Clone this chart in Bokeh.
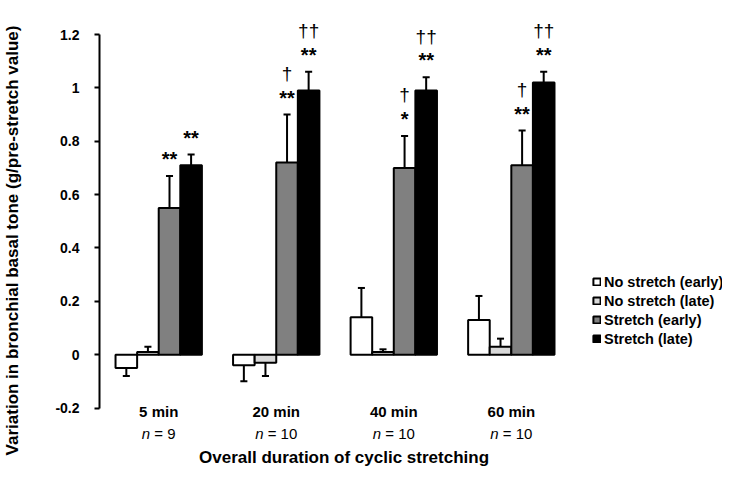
from bokeh.plotting import figure
from bokeh.models import FixedTicker, Legend, LegendItem, Range1d
from bokeh.core.properties import value
from bokeh.embed import file_html
from bokeh.resources import INLINE

# ---------------- data ----------------
categories = ["5 min", "20 min", "40 min", "60 min"]
n_values = [9, 10, 10, 10]
series_names = ["No stretch (early)", "No stretch (late)", "Stretch (early)", "Stretch (late)"]

no_stretch_early = [-0.05, -0.04, 0.14, 0.13]
no_stretch_early_err = [0.03, 0.06, 0.11, 0.09]
no_stretch_late = [0.01, -0.03, 0.01, 0.03]
no_stretch_late_err = [0.02, 0.05, 0.01, 0.03]
stretch_early = [0.55, 0.72, 0.70, 0.71]
stretch_early_err = [0.12, 0.18, 0.12, 0.13]
stretch_late = [0.71, 0.99, 0.99, 1.02]
stretch_late_err = [0.04, 0.07, 0.05, 0.04]

stretch_early_stars = ["**", "**", "*", "**"]
stretch_early_daggers = ["", "\u2020", "\u2020", "\u2020"]
stretch_late_stars = ["**", "**", "**", "**"]
stretch_late_daggers = ["", "\u2020\u2020", "\u2020\u2020", "\u2020\u2020"]

y_ticks = [-0.2, 0.0, 0.2, 0.4, 0.6, 0.8, 1.0, 1.2]
y_tick_labels = ["-0.2", "0", "0.2", "0.4", "0.6", "0.8", "1", "1.2"]
y_title = "Variation in bronchial basal tone (g/pre-stretch value)"
x_title = "Overall duration of cyclic stretching"

# ---------------- style ----------------
FONT = "Liberation Sans"
fills = ["#ffffff", "#d9d9d9", "#808080", "#000000"]
offsets = [-1.5, -0.5, 0.5, 1.5]
bar_w = 0.1837
cap = 0.03

W, H = 722, 470
p = figure(width=W, height=H, output_backend="svg", toolbar_location=None,
           x_range=Range1d(-0.5038, 4.7968), y_range=Range1d(-0.4342, 1.2900),
           min_border_left=96, min_border_right=0, min_border_top=10, min_border_bottom=0,
           x_axis_location=None)
p.grid.visible = False
p.outline_line_color = None
p.background_fill_color = "white"
p.border_fill_color = "white"

ya = p.yaxis[0]
ya.ticker = FixedTicker(ticks=y_ticks)
ya.bounds = (y_ticks[0], y_ticks[-1])
ya.major_label_overrides = {t: l for t, l in zip(y_ticks, y_tick_labels)}
ya.minor_tick_line_color = None
ya.major_tick_out = 5
ya.major_tick_in = 0
ya.major_tick_line_width = 2
ya.axis_line_width = 2
ya.axis_line_color = "black"
ya.major_tick_line_color = "black"
ya.major_label_text_font = FONT
ya.major_label_text_font_size = "14px"
ya.major_label_text_font_style = "bold"
ya.major_label_text_color = "black"
ya.major_label_standoff = 15
ya.axis_label = y_title
ya.axis_label_text_font = FONT
ya.axis_label_text_font_size = "17px"
ya.axis_label_text_font_style = "bold"
ya.axis_label_text_color = "black"
ya.axis_label_standoff = 30

series = [
    (no_stretch_early, no_stretch_early_err),
    (no_stretch_late, no_stretch_late_err),
    (stretch_early, stretch_early_err),
    (stretch_late, stretch_late_err),
]

renderers = []
ends_by_series = []
xs_by_series = []
for k, (vals, errs) in enumerate(series):
    xs = [i + offsets[k] * bar_w for i in range(len(categories))]
    r = p.vbar(x=xs, top=vals, bottom=0, width=bar_w, fill_color=fills[k],
               line_color="black", line_width=2)
    renderers.append(r)
    ends = [v + (e if v >= 0 else -e) for v, e in zip(vals, errs)]
    p.segment(x0=xs, y0=vals, x1=xs, y1=ends, line_color="black", line_width=2)
    p.segment(x0=[x - cap for x in xs], y0=ends, x1=[x + cap for x in xs], y1=ends,
              line_color="black", line_width=2)
    ends_by_series.append(ends)
    xs_by_series.append(xs)

# significance marks
for k, stars, daggers in [(2, stretch_early_stars, stretch_early_daggers),
                          (3, stretch_late_stars, stretch_late_daggers)]:
    p.text(x=xs_by_series[k], y=ends_by_series[k], text=stars, y_offset=-17,
           text_align="center", text_baseline="alphabetic",
           text_font=value(FONT), text_font_size="20px", text_font_style="bold",
           text_color="black")
    p.text(x=xs_by_series[k], y=ends_by_series[k], text=daggers, y_offset=-41,
           text_align="center", text_baseline="alphabetic",
           text_font=value(FONT), text_font_size="19px", text_color="black")

# category labels
centers = list(range(len(categories)))
base_y = [y_ticks[0]] * len(categories)
p.text(x=centers, y=base_y, text=categories, y_offset=3, text_align="center",
       text_baseline="middle", text_font=value(FONT), text_font_size="15px",
       text_font_style="bold", text_color="black")

fs = 15.0
n_w = 0.556 * fs
rest = ["\u00a0=\u00a0%d" % n for n in n_values]
rest_w = [(0.278 + 0.584 + 0.278 + 0.556 * len(str(n))) * fs for n in n_values]
anchor_off = [-(n_w + rw) / 2 + n_w for rw in rest_w]
p.text(x=centers, y=base_y, text=["n"] * len(categories), x_offset=anchor_off, y_offset=25,
       text_align="right", text_baseline="middle", text_font=value(FONT),
       text_font_size="15px", text_font_style="italic", text_color="black")
p.text(x=centers, y=base_y, text=rest, x_offset=anchor_off, y_offset=25,
       text_align="left", text_baseline="middle", text_font=value(FONT),
       text_font_size="15px", text_color="black")

# x title
mid = sum(centers) / len(centers)
p.text(x=[mid], y=[y_ticks[0]], text=[x_title], x_offset=9, y_offset=49,
       text_align="center", text_baseline="middle", text_font=value(FONT),
       text_font_size="17px", text_font_style="bold", text_color="black")

legend = Legend(items=[LegendItem(label=n, renderers=[r]) for n, r in zip(series_names, renderers)],
                location=(493, 122), orientation="vertical",
                glyph_width=9, glyph_height=9, label_height=19, label_width=10,
                spacing=0, padding=0, margin=0, label_standoff=3,
                border_line_color=None, background_fill_alpha=0,
                label_text_font=FONT, label_text_font_size="14.5px",
                label_text_font_style="bold", label_text_color="black")
p.add_layout(legend)

open("out.html", "w").write(file_html(p, INLINE))
